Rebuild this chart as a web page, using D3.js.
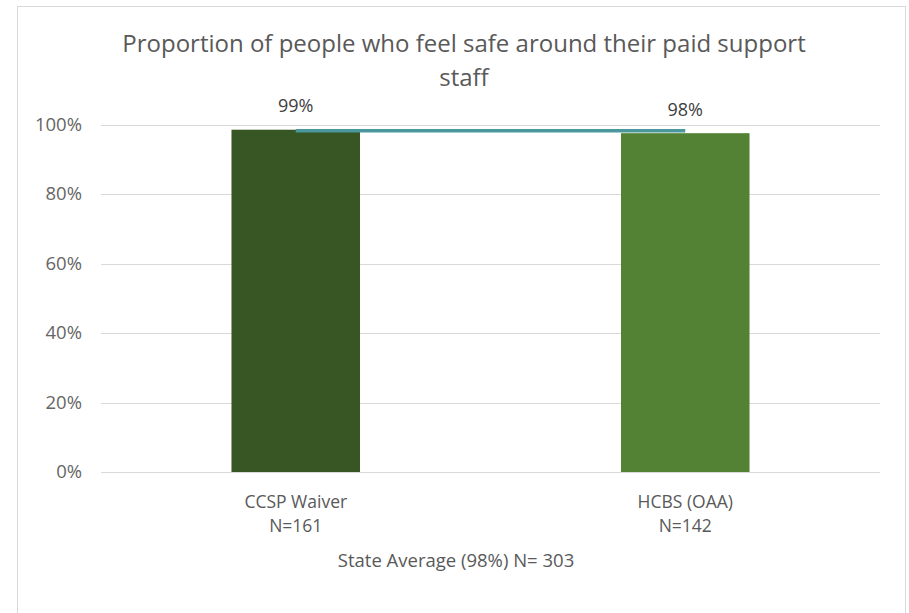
<!DOCTYPE html>
<html><head><meta charset="utf-8">
<script src="https://cdn.jsdelivr.net/npm/d3@7"></script>
<style>body{margin:0;background:#fff;} text{font-family:"Open Sans", sans-serif;}</style>
</head><body>
<svg id="c" width="909" height="613"></svg>
<script>
const categories = ["CCSP Waiver", "HCBS (OAA)"];
const sampleSizes = ["N=161", "N=142"];
const values = [0.985, 0.975];
const valueLabels = ["99%", "98%"];
const stateAverage = 0.982;
const yTicks = [0, 0.2, 0.4, 0.6, 0.8, 1.0];
const titleLines = ["Proportion of people who feel safe around their paid support", "staff"];
const footer = "State Average (98%) N= 303";

(function(){
const svg = d3.select("#c");
svg.append("rect").attr("x",17.5).attr("y",6.5).attr("width",888).attr("height",620)
  .attr("fill","#fff").attr("stroke","#d9d9d9").attr("stroke-width",1);

const pLeft=101, pRight=880, pTop=124.5, pBottom=472;
const x = d3.scaleBand().domain(categories).range([pLeft,pRight]).paddingInner(0.67).paddingOuter(0.335);
const y = d3.scaleLinear().domain([0,1]).range([pBottom,pTop]);

svg.append("g").selectAll("line").data(yTicks).join("line")
  .attr("x1",pLeft).attr("x2",pRight).attr("y1",d=>Math.round(y(d))+0.5).attr("y2",d=>Math.round(y(d))+0.5)
  .attr("stroke","#d9d9d9").attr("stroke-width",1);

const yAxis = d3.axisLeft(y).tickValues(yTicks).tickFormat(d3.format(".0%")).tickSize(0).tickPadding(0);
const ga = svg.append("g").attr("transform",`translate(82,0)`).call(yAxis);
ga.select(".domain").remove();
ga.selectAll("text").attr("fill","#666666").style("font-size","18.5px").style("font-family","'Open Sans', sans-serif");

const colors = ["#375623","#548235"];
svg.append("g").selectAll("rect").data(values).join("rect")
  .attr("x",(d,i)=>x(categories[i])).attr("width",x.bandwidth())
  .attr("y",d=>y(d)).attr("height",d=>pBottom-y(d)).attr("fill",(d,i)=>colors[i]);

svg.append("line")
  .attr("x1",x(categories[0])+x.bandwidth()/2).attr("x2",x(categories[1])+x.bandwidth()/2)
  .attr("y1",y(stateAverage)).attr("y2",y(stateAverage))
  .attr("stroke","#4a979c").attr("stroke-width",3.5);

svg.append("g").selectAll("text").data(values).join("text")
  .attr("x",(d,i)=>x(categories[i])+x.bandwidth()/2).attr("y",(d,i)=>i===0?112:116)
  .attr("text-anchor","middle").attr("fill","#404040").style("font-size","18px")
  .text((d,i)=>valueLabels[i]);

const cg = svg.append("g");
categories.forEach((c,i)=>{
  const cx = x(c)+x.bandwidth()/2;
  cg.append("text").attr("x",cx).attr("y",508).attr("text-anchor","middle").attr("fill","#595959").style("font-size","17.5px").text(c);
  cg.append("text").attr("x",cx).attr("y",532).attr("text-anchor","middle").attr("fill","#595959").style("font-size","17.5px").text(sampleSizes[i]);
});
svg.append("text").attr("x",456).attr("y",567).attr("text-anchor","middle").attr("fill","#595959").style("font-size","18.5px").text(footer);

svg.append("g").selectAll("text").data(titleLines).join("text")
  .attr("x",464).attr("y",(d,i)=>52+i*34).attr("text-anchor","middle").attr("fill","#595959")
  .style("font-size","24px").text(d=>d);
})();
</script>
</body></html>
